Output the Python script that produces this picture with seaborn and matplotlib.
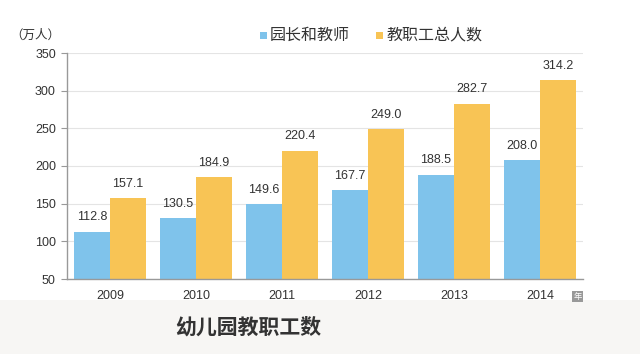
import matplotlib
matplotlib.use("Agg")
import matplotlib.pyplot as plt
import seaborn as sns
import pandas as pd
from matplotlib.patches import Rectangle

years = ["2009", "2010", "2011", "2012", "2013", "2014"]
teachers = [112.8, 130.5, 149.6, 167.7, 188.5, 208.0]
staff = [157.1, 184.9, 220.4, 249.0, 282.7, 314.2]
series_names = ["园长和教师", "教职工总人数"]
yticks = [50, 100, 150, 200, 250, 300, 350]

colors = ["#7fc3eb", "#f8c455"]

sns.set_theme(style="white")
plt.rcParams['font.family'] = ['Liberation Sans', 'Noto Sans CJK SC', 'DejaVu Sans']

df = pd.DataFrame({
    "year": years * 2,
    "value": teachers + staff,
    "series": [series_names[0]] * len(years) + [series_names[1]] * len(years),
})

fig = plt.figure(figsize=(6.4, 3.54), dpi=100)
fig.patch.set_facecolor("white")
# bottom gray band
fig.patches.append(Rectangle((0, 0), 1, 54 / 354, transform=fig.transFigure,
                             facecolor="#f7f6f4", edgecolor="none", zorder=0))

ax = fig.add_axes([67 / 640, 1 - 279 / 354, (583 - 67) / 640, (279 - 53) / 354])
sns.barplot(data=df, x="year", y="value", hue="series", palette=colors,
            width=0.84, gap=0, ax=ax, legend=False, saturation=1, linewidth=0)

ax.set_ylim(50, 350)
ax.set_yticks(yticks)
ax.set_yticklabels([str(t) for t in yticks], fontsize=9, color="#333333")
ax.set_xlabel("")
ax.set_ylabel("")
ax.tick_params(axis="x", labelsize=9, colors="#333333", length=0, pad=8)
ax.tick_params(axis="y", length=4, color="#999999", width=0.8, left=True, pad=4)
ax.grid(axis="y", color="#e4e4e4", linewidth=0.8)
ax.set_axisbelow(True)
for s in ["top", "right"]:
    ax.spines[s].set_visible(False)
for s in ["left", "bottom"]:
    ax.spines[s].set_color("#999999")
    ax.spines[s].set_linewidth(1.0)

for cont, vals in zip(ax.containers, [teachers, staff]):
    ax.bar_label(cont, labels=[f"{v:.1f}" for v in vals], padding=6,
                 fontsize=9, color="#333333")

# unit label
fig.text(10 / 640, 1 - 35 / 354, "（万人）", fontsize=9, color="#333333",
         family=['Noto Sans CJK SC', 'DejaVu Sans'], va="center", ha="left")

# legend
for (xs, name, c) in [(260, series_names[0], colors[0]), (376, series_names[1], colors[1])]:
    fig.patches.append(Rectangle((xs / 640, 1 - 39 / 354), 7 / 640, 7 / 354,
                                 transform=fig.transFigure, facecolor=c,
                                 edgecolor="none"))
    fig.text((xs + 10) / 640, 1 - 35 / 354, name, fontsize=11.5, color="#333333",
             family=['Noto Sans CJK SC', 'DejaVu Sans'], va="center", ha="left")

# year unit box
fig.patches.append(Rectangle((572 / 640, 1 - 302 / 354), 11 / 640, 11 / 354,
                             transform=fig.transFigure, facecolor="#999999",
                             edgecolor="none"))
fig.text(577.5 / 640, 1 - 296.5 / 354, "年", fontsize=6, color="white",
         family=['Noto Sans CJK SC', 'DejaVu Sans'], va="center", ha="center")

# title
fig.text(248 / 640, 1 - 327 / 354, "幼儿园教职工数", fontsize=15, color="#333333",
         fontweight="bold", family=['Noto Sans CJK SC', 'DejaVu Sans'],
         va="center", ha="center")

fig.savefig("out.png", dpi=100, facecolor=fig.get_facecolor())
